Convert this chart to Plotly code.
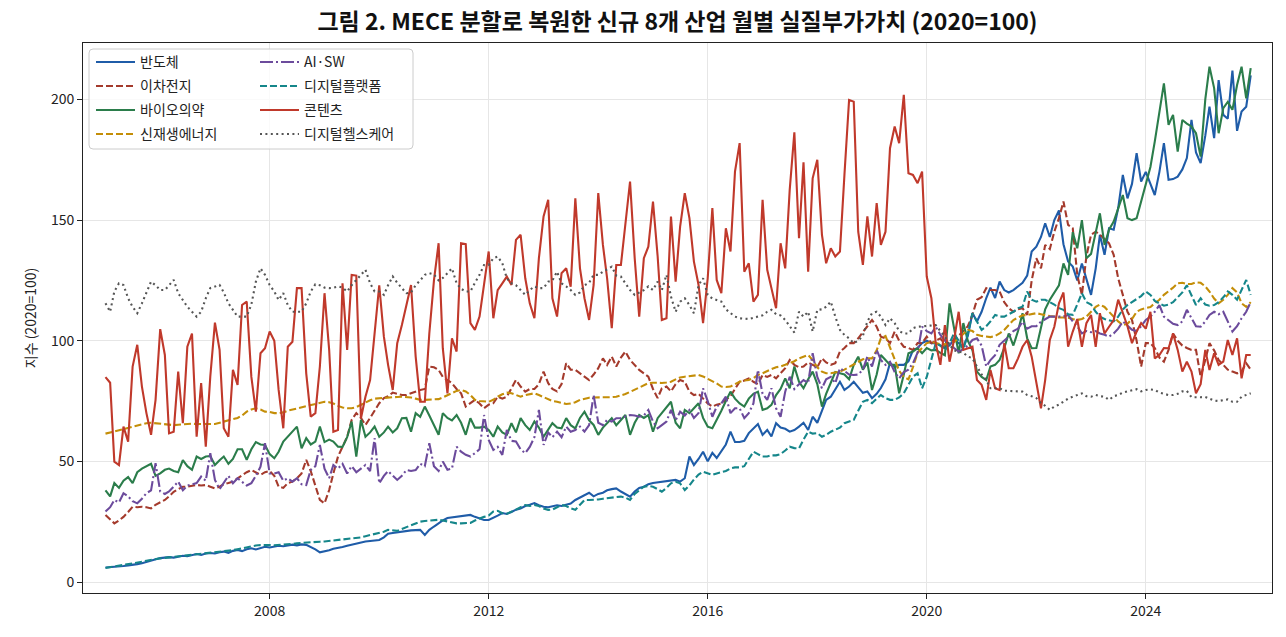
import pandas as pd
import plotly.graph_objects as go

dates = pd.date_range("2005-01-01", periods=252, freq="MS")

semiconductor = [
    6.0, 6.1, 6.3, 6.5, 6.6, 6.9, 7.0, 7.4, 7.8, 8.3, 9.0, 9.6,
    9.9, 10.1, 10.3, 10.1, 10.6, 10.9, 10.7, 11.2, 11.6, 11.2, 11.8, 12.0,
    11.8, 12.3, 12.6, 12.1, 12.9, 13.3, 12.8, 13.6, 14.0, 13.5, 14.2, 14.6,
    14.3, 14.6, 15.0, 14.8, 15.2, 15.5, 15.2, 15.6, 15.4, 14.6, 13.5, 12.3,
    12.6, 13.2, 13.8, 14.0, 14.5, 15.0, 15.5, 16.0, 16.4, 16.8, 17.0, 17.2,
    17.4, 18.5, 20.0, 20.3, 20.6, 21.0, 21.2, 21.4, 21.5, 21.6, 19.5, 21.6,
    23.0, 24.5, 25.5, 26.5, 26.8, 27.0, 27.3, 27.6, 27.8, 27.0, 26.2, 25.7,
    25.7, 26.5, 27.5, 28.6, 28.2, 29.0, 30.0, 30.5, 31.5, 32.0, 32.7, 31.8,
    31.2, 31.0, 31.5, 31.8, 31.5, 32.0, 32.5, 34.0, 35.0, 36.0, 37.0, 35.5,
    36.5, 37.0, 38.0, 38.5, 38.8, 37.5, 36.5, 35.4, 37.5, 39.0, 39.5, 40.5,
    41.0, 41.3, 41.6, 41.8, 42.0, 42.3, 41.6, 43.0, 52.0, 48.5, 51.0, 54.0,
    50.0, 53.5, 51.4, 54.0, 57.0, 62.3, 58.0, 58.0, 58.5, 61.7, 63.5, 65.5,
    61.0, 63.0, 60.3, 65.8, 64.0, 63.5, 62.3, 63.0, 64.4, 66.0, 63.0, 68.5,
    66.0, 71.3, 75.5, 76.8, 80.0, 83.0, 79.6, 81.0, 83.0, 80.5, 78.4, 79.0,
    76.2, 78.0, 80.4, 84.0, 90.8, 89.0, 90.0, 90.0, 91.5, 96.0, 97.0, 99.0,
    100.0, 99.0, 99.0, 98.0, 97.0, 98.0, 100.5, 99.0, 97.5, 102.0, 111.5, 108.0,
    112.0, 117.7, 122.0, 117.7, 124.5, 121.0, 120.0, 121.0, 122.5, 124.0, 127.0, 137.0,
    139.0, 143.0, 148.7, 143.0, 150.0, 154.0, 140.0, 132.8, 130.7, 125.0, 132.0, 126.0,
    119.0, 130.0, 143.9, 135.6, 146.6, 146.0, 155.0, 168.7, 159.0, 165.0, 177.7, 166.0,
    170.0, 165.0, 160.4, 170.0, 181.9, 166.7, 167.0, 168.0, 171.0, 175.7, 191.5, 178.0,
    173.6, 185.0, 197.0, 184.0, 208.0, 193.6, 192.0, 212.0, 187.0, 195.0, 197.0, 210.0,
]

battery = [
    27.8, 26.0, 24.3, 25.5, 27.0, 29.0, 31.2, 31.0, 31.2, 31.0, 30.5, 32.0,
    33.0, 34.0, 35.5, 37.4, 38.5, 39.5, 39.5, 40.0, 40.2, 40.0, 40.2, 39.5,
    38.8, 39.5, 40.5, 41.0, 41.6, 43.0, 44.4, 45.5, 46.4, 45.5, 44.4, 45.5,
    46.0, 44.0, 39.5, 39.0, 41.0, 41.6, 43.0, 45.0, 50.6, 46.0, 40.0, 34.0,
    32.6, 38.1, 45.0, 52.0, 56.0, 60.2, 67.2, 70.0, 68.0, 65.1, 68.0, 71.0,
    74.1, 76.2, 77.0, 78.5, 78.0, 77.5, 77.5, 78.2, 79.0, 79.6, 80.0, 89.3,
    89.0, 87.9, 85.0, 83.7, 82.4, 80.0, 78.2, 72.7, 74.0, 75.5, 74.0, 72.0,
    73.5, 74.1, 76.8, 76.0, 76.8, 80.3, 83.7, 81.0, 78.9, 80.0, 80.0, 82.0,
    87.2, 82.4, 80.0, 79.0, 82.0, 90.7, 88.0, 87.9, 86.5, 85.0, 83.7, 86.0,
    88.6, 92.7, 90.0, 93.4, 89.3, 93.0, 95.5, 92.0, 90.0, 87.9, 86.5, 85.1,
    80.0, 76.2, 80.3, 81.0, 79.0, 82.0, 83.7, 83.0, 78.9, 77.5, 78.0, 76.2,
    74.0, 72.7, 73.5, 74.0, 75.5, 77.0, 80.0, 83.0, 83.5, 84.4, 83.0, 82.0,
    85.8, 85.0, 85.8, 84.4, 86.5, 88.6, 92.0, 90.0, 89.0, 89.3, 91.0, 90.0,
    89.0, 92.7, 91.0, 90.0, 90.7, 95.5, 97.0, 99.0, 99.0, 101.0, 103.8, 106.0,
    108.6, 105.8, 101.7, 101.0, 99.0, 103.8, 100.0, 97.5, 97.0, 96.2, 99.0, 99.0,
    101.7, 99.0, 100.0, 101.0, 98.0, 99.0, 100.5, 102.0, 104.0, 106.0, 110.7, 117.0,
    118.0, 121.8, 121.0, 121.0, 120.4, 116.0, 113.5, 112.0, 113.0, 113.5, 110.7, 125.0,
    134.2, 130.0, 139.7, 138.0, 145.2, 150.8, 157.7, 148.0, 146.6, 127.3, 119.0, 135.0,
    143.9, 145.2, 144.0, 142.0, 140.4, 135.6, 125.9, 119.0, 112.0, 108.6, 100.0, 89.3,
    99.0, 99.0, 97.0, 93.0, 91.3, 96.2, 103.0, 100.0, 98.0, 97.0, 96.2, 96.2,
    85.1, 92.0, 99.0, 96.0, 92.0, 90.0, 88.0, 87.2, 86.5, 87.2, 90.7, 88.0,
]

biopharma = [
    38.0, 35.5, 41.0, 39.0, 42.0, 43.5, 41.0, 45.5, 47.0, 48.0, 49.0, 44.0,
    45.0, 46.5, 47.0, 46.0, 45.5, 50.5, 48.0, 46.5, 52.0, 51.0, 52.0, 52.2,
    48.5, 50.5, 52.0, 49.0, 51.0, 55.0, 55.0, 50.6, 55.0, 58.0, 57.0, 56.8,
    53.0, 51.3, 54.0, 58.2, 60.2, 62.0, 64.4, 55.4, 59.6, 57.0, 58.2, 64.4,
    58.0, 59.0, 58.2, 56.1, 56.0, 60.0, 66.5, 52.0, 67.2, 60.2, 62.0, 64.4,
    60.2, 62.0, 64.4, 62.0, 63.7, 67.9, 68.0, 62.3, 70.0, 68.5, 72.7, 69.0,
    65.0, 61.0, 70.0, 68.0, 67.0, 69.2, 66.0, 61.0, 67.9, 64.0, 64.0, 64.4,
    63.0, 60.2, 64.4, 62.0, 61.0, 65.8, 62.0, 67.9, 65.0, 63.0, 66.5, 64.0,
    60.2, 63.0, 65.8, 64.0, 63.7, 67.9, 65.0, 63.7, 68.0, 70.6, 67.0, 65.1,
    61.0, 64.0, 66.0, 67.9, 65.0, 67.0, 69.2, 61.0, 66.0, 69.2, 68.0, 69.2,
    62.3, 67.9, 70.0, 72.0, 74.7, 66.0, 63.7, 71.3, 70.0, 72.0, 74.1, 68.0,
    64.4, 63.7, 67.0, 71.0, 75.0, 78.9, 76.0, 74.0, 72.7, 76.0, 78.0, 78.9,
    71.3, 72.0, 73.4, 77.5, 80.0, 84.4, 80.3, 89.3, 83.0, 80.3, 84.0, 87.2,
    82.0, 72.7, 78.0, 83.0, 87.0, 86.5, 86.0, 84.0, 90.0, 93.4, 88.0, 91.0,
    79.6, 86.0, 94.1, 92.0, 90.0, 90.0, 78.2, 86.0, 94.8, 95.5, 96.9, 94.8,
    97.0, 96.0, 96.2, 95.0, 94.0, 115.5, 105.0, 94.8, 107.3, 100.0, 96.0, 87.2,
    85.0, 83.7, 89.3, 90.0, 92.0, 97.0, 103.0, 98.0, 104.0, 111.4, 101.0, 96.9,
    97.0, 105.0, 113.0, 117.0, 120.0, 123.0, 132.0, 127.3, 145.0, 138.3, 150.0, 134.2,
    136.0, 145.0, 152.8, 139.7, 146.0, 149.4, 155.0, 160.4, 150.8, 150.0, 150.8, 158.0,
    164.6, 172.0, 182.5, 195.0, 206.7, 189.5, 193.6, 178.4, 191.5, 190.0, 188.8, 186.0,
    176.3, 200.0, 213.6, 204.7, 186.0, 196.4, 199.0, 195.7, 206.0, 213.6, 200.5, 213.0,
]

renewable = [
    61.5, 62.0, 62.5, 63.0, 63.5, 64.0, 64.5, 65.0, 65.5, 65.8, 66.0, 65.8,
    65.5, 65.3, 65.1, 65.0, 65.2, 65.4, 65.5, 65.6, 65.5, 65.4, 65.5, 65.5,
    65.5, 66.0, 66.5, 67.0, 67.4, 68.0, 69.0, 70.6, 71.5, 72.0, 71.5, 70.6,
    70.5, 70.0, 70.0, 70.3, 71.0, 71.5, 72.0, 72.5, 73.0, 73.5, 74.0, 74.5,
    74.7, 74.5, 74.0, 73.0, 72.3, 72.0, 72.0, 72.5, 73.5, 74.5, 75.3, 76.0,
    76.2, 76.4, 76.5, 76.6, 76.7, 76.8, 76.8, 76.5, 76.0, 75.5, 75.5, 75.5,
    75.5, 75.8, 76.5, 77.5, 78.5, 79.2, 79.6, 79.0, 77.5, 75.5, 75.0, 74.7,
    74.7, 75.5, 76.8, 77.8, 78.5, 78.2, 77.5, 76.8, 77.5, 78.0, 78.2, 77.5,
    76.6, 75.8, 75.0, 74.7, 74.2, 73.8, 74.0, 74.5, 75.5, 76.0, 76.4, 76.5,
    76.5, 76.3, 76.4, 76.6, 76.8, 77.2, 77.9, 78.8, 79.8, 80.7, 81.5, 82.4,
    82.6, 82.5, 82.5, 82.7, 83.0, 84.0, 84.8, 85.1, 85.4, 85.6, 85.8, 85.2,
    84.2, 83.5, 82.3, 81.0, 80.8, 81.0, 82.0, 83.0, 83.5, 83.7, 84.5, 85.8,
    86.5, 87.5, 88.2, 89.0, 89.3, 90.0, 90.7, 91.5, 92.7, 93.5, 94.1, 92.0,
    89.0, 87.2, 86.5, 86.5, 86.8, 87.2, 88.0, 89.0, 90.0, 91.0, 92.3, 92.7,
    92.7, 96.0, 101.0, 102.0, 97.0, 92.0, 87.5, 85.0, 84.0, 89.0, 95.0, 97.0,
    99.0, 99.5, 99.0, 98.5, 98.5, 99.0, 99.5, 101.0, 103.0, 104.5, 104.0, 102.5,
    102.0, 101.7, 101.5, 102.0, 103.0, 104.5, 106.5, 108.6, 109.6, 110.5, 110.7, 111.0,
    111.4, 111.0, 110.5, 110.2, 110.0, 109.6, 109.6, 109.5, 109.0, 108.6, 109.0, 110.0,
    112.0, 114.0, 115.0, 114.0, 112.0, 110.0, 108.0, 106.5, 107.0, 109.0, 112.0, 113.0,
    113.5, 114.0, 115.5, 117.0, 119.0, 120.4, 122.0, 123.8, 124.0, 123.5, 123.5, 124.2,
    124.0, 122.5, 120.4, 117.5, 115.5, 117.0, 119.0, 121.8, 120.0, 115.5, 114.0, 116.0,
]

ai_sw = [
    29.2, 31.0, 34.0, 33.0, 36.8, 35.5, 33.5, 32.6, 34.5, 36.8, 38.0, 49.2,
    37.5, 36.5, 37.5, 39.5, 41.6, 38.0, 40.0, 40.5, 41.0, 43.7, 42.0, 53.4,
    42.3, 38.5, 41.0, 44.0, 40.9, 43.0, 41.5, 40.0, 41.0, 44.0, 47.8, 57.5,
    45.0, 45.0, 45.5, 42.0, 43.0, 41.6, 43.0, 40.5, 40.2, 46.4, 48.0, 56.8,
    47.0, 43.0, 48.5, 47.0, 49.0, 45.0, 48.0, 45.5, 47.0, 48.5, 46.0, 59.6,
    40.9, 44.0, 46.0, 44.0, 42.3, 44.0, 46.4, 46.0, 46.4, 49.0, 48.0, 57.5,
    48.0, 46.0, 49.9, 46.5, 47.0, 56.1, 54.0, 52.7, 52.0, 53.4, 55.0, 69.2,
    58.9, 54.7, 56.0, 52.7, 63.0, 58.5, 58.2, 55.0, 53.4, 56.0, 60.0, 71.3,
    56.8, 62.0, 60.0, 62.3, 60.0, 64.4, 62.3, 63.0, 64.4, 62.3, 65.0, 77.5,
    66.0, 65.0, 67.2, 66.5, 67.9, 68.0, 68.5, 69.2, 69.0, 68.5, 69.0, 71.3,
    66.5, 63.7, 65.0, 66.5, 71.3, 67.0, 70.6, 69.0, 71.3, 68.0, 70.0, 80.3,
    75.0, 68.5, 72.7, 74.0, 76.8, 70.0, 72.0, 72.0, 67.9, 70.0, 74.0, 87.9,
    78.0, 75.5, 80.3, 72.0, 68.5, 78.9, 85.1, 80.0, 82.0, 83.7, 82.5, 94.8,
    85.0, 80.3, 84.0, 85.0, 82.4, 88.6, 87.5, 86.0, 85.8, 86.0, 88.0, 93.4,
    89.3, 96.2, 92.0, 90.0, 91.3, 87.0, 84.4, 87.0, 88.0, 90.7, 95.0, 105.8,
    104.0, 103.0, 105.8, 102.4, 100.0, 99.0, 97.0, 95.5, 96.5, 98.0, 100.3, 101.0,
    98.0, 89.3, 92.0, 94.0, 98.3, 100.0, 101.7, 104.0, 105.0, 107.9, 105.0, 106.0,
    106.0, 107.9, 109.0, 110.0, 110.0, 110.0, 110.0, 110.7, 108.0, 106.0, 103.0, 104.0,
    103.5, 104.0, 103.0, 102.5, 101.7, 103.0, 105.0, 108.0, 106.0, 104.5, 104.0, 106.0,
    108.6, 110.0, 112.0, 114.8, 110.0, 108.6, 107.0, 106.5, 108.0, 112.8, 109.0, 106.0,
    105.8, 108.0, 110.7, 112.0, 111.0, 112.0, 108.0, 103.8, 106.0, 109.3, 112.0, 116.0,
]

platform = [
    5.8, 6.1, 6.4, 6.7, 7.0, 7.3, 7.6, 8.0, 8.4, 8.8, 9.2, 9.6,
    9.8, 10.0, 10.2, 10.4, 10.6, 10.8, 11.0, 11.2, 11.4, 11.6, 11.8, 12.0,
    12.2, 12.4, 12.6, 12.9, 13.2, 13.6, 14.0, 14.4, 14.8, 15.1, 15.3, 15.4,
    15.3, 15.2, 15.3, 15.5, 15.6, 15.8, 16.0, 16.2, 16.4, 16.5, 16.6, 16.7,
    16.8, 17.0, 17.2, 17.4, 17.6, 17.8, 18.0, 18.1, 18.5, 19.0, 19.5, 20.0,
    20.2, 20.8, 21.6, 21.5, 21.2, 22.0, 22.8, 23.6, 24.4, 25.0, 25.3, 25.5,
    25.7, 25.8, 25.5, 25.0, 24.5, 24.3, 24.3, 24.5, 24.5, 25.5, 26.4, 27.0,
    27.5, 29.2, 29.5, 28.5, 28.3, 29.0, 30.0, 31.0, 31.9, 31.5, 31.9, 31.5,
    30.5, 29.9, 30.0, 31.0, 31.9, 31.5, 30.5, 29.9, 32.0, 34.0, 34.0, 34.0,
    34.2, 34.5, 34.8, 35.0, 35.2, 35.4, 35.0, 34.0, 36.5, 38.0, 39.5, 39.8,
    39.5, 38.5, 37.4, 39.0, 40.9, 41.5, 40.9, 38.1, 40.0, 42.5, 44.5, 45.7,
    45.0, 44.4, 45.0, 45.5, 46.0, 47.1, 47.5, 47.5, 48.0, 51.0, 54.0, 53.0,
    52.0, 52.0, 52.5, 52.5, 53.0, 54.5, 56.1, 55.5, 55.4, 59.0, 62.3, 61.5,
    61.7, 60.2, 61.0, 62.3, 63.0, 64.0, 65.8, 66.5, 67.2, 71.0, 74.7, 75.5,
    74.1, 76.0, 77.5, 76.2, 75.5, 75.5, 76.5, 78.2, 82.0, 85.1, 86.5, 80.3,
    85.0, 92.0, 99.0, 98.0, 96.0, 99.0, 103.0, 100.0, 96.2, 103.0, 111.4, 108.0,
    104.5, 106.0, 108.0, 110.7, 110.0, 110.0, 111.0, 112.0, 113.5, 114.1, 120.4, 117.0,
    116.2, 117.0, 117.0, 116.0, 115.0, 113.5, 112.8, 111.0, 110.7, 115.0, 119.7, 116.0,
    115.0, 112.0, 110.0, 109.0, 108.5, 108.0, 110.0, 113.0, 114.8, 116.0, 117.6, 118.5,
    120.4, 119.0, 116.5, 115.5, 114.5, 115.0, 116.0, 118.0, 120.0, 123.0, 119.0, 114.8,
    117.6, 115.0, 114.5, 114.8, 116.0, 118.0, 120.4, 119.0, 117.0, 121.0, 125.2, 119.0,
]

content = [
    84.9, 82.6, 49.9, 48.5, 64.4, 58.2, 89.3, 98.3, 81.0, 70.0, 61.0, 75.5,
    104.8, 94.1, 61.6, 62.3, 87.2, 65.8, 97.5, 103.0, 60.2, 82.4, 56.1, 85.1,
    107.5, 96.2, 63.7, 60.2, 87.9, 81.7, 114.8, 116.2, 85.0, 70.6, 94.8, 96.9,
    103.8, 100.0, 79.6, 63.7, 97.5, 99.6, 121.8, 121.8, 86.5, 68.5, 70.0, 89.3,
    119.7, 96.2, 62.3, 63.0, 123.8, 96.2, 127.3, 127.0, 67.9, 76.8, 83.7, 104.5,
    123.0, 101.7, 90.0, 79.6, 99.0, 106.5, 115.0, 123.1, 93.4, 74.7, 74.7, 103.0,
    125.0, 140.4, 96.9, 78.2, 101.0, 95.5, 140.4, 140.0, 107.3, 104.5, 110.0, 123.0,
    137.0, 109.3, 121.0, 123.8, 126.6, 123.1, 141.8, 143.9, 125.9, 115.5, 109.3, 134.2,
    151.5, 158.4, 117.6, 110.0, 128.0, 130.0, 122.4, 159.0, 130.0, 117.6, 108.6, 123.1,
    161.2, 139.7, 125.9, 105.2, 131.4, 131.4, 148.0, 166.0, 134.2, 110.0, 134.2, 139.0,
    157.7, 135.0, 108.6, 109.3, 151.5, 124.5, 147.3, 161.2, 150.8, 132.8, 123.1, 107.3,
    125.9, 155.0, 125.2, 119.7, 146.6, 137.0, 170.1, 181.9, 128.6, 132.1, 116.2, 119.0,
    158.4, 129.4, 121.8, 113.5, 140.4, 130.0, 162.5, 186.4, 142.5, 174.0, 128.6, 167.3,
    175.0, 143.9, 132.1, 138.3, 134.9, 137.0, 168.7, 199.8, 199.1, 145.2, 131.4, 151.5,
    134.9, 157.0, 139.7, 145.2, 179.8, 188.8, 181.9, 201.9, 169.4, 168.7, 165.3, 170.1,
    126.6, 117.6, 99.0, 90.0, 106.5, 91.3, 100.3, 112.0, 96.2, 97.0, 97.5, 83.7,
    81.7, 75.5, 87.9, 80.3, 79.6, 99.0, 88.6, 88.6, 92.7, 97.5, 100.3, 93.4,
    82.4, 72.0, 83.7, 100.3, 105.8, 115.5, 120.0, 97.5, 103.8, 109.0, 97.5, 107.3,
    110.7, 97.5, 111.4, 103.0, 105.8, 108.6, 117.0, 111.4, 106.0, 99.0, 103.8, 107.3,
    105.0, 112.0, 92.7, 94.1, 97.0, 96.9, 103.0, 96.2, 87.2, 91.3, 87.2, 78.2,
    82.0, 96.2, 87.9, 94.8, 90.0, 91.3, 100.3, 94.1, 101.0, 84.4, 94.1, 94.1,
]

healthcare = [
    115.5, 112.0, 120.4, 123.8, 123.1, 117.6, 114.0, 111.4, 115.5, 120.0, 124.5, 123.0,
    121.0, 121.0, 123.1, 125.2, 119.7, 116.9, 114.1, 112.0, 110.0, 112.0, 117.6, 121.8,
    122.5, 123.1, 120.0, 115.5, 112.8, 110.0, 110.0, 110.0, 115.0, 124.5, 130.0, 127.3,
    123.1, 120.4, 116.9, 119.7, 114.8, 112.0, 112.0, 112.0, 115.5, 120.4, 123.4, 123.0,
    122.0, 121.8, 122.0, 122.5, 122.0, 120.4, 123.0, 125.2, 127.0, 129.4, 123.8, 120.4,
    120.4, 119.0, 123.0, 126.6, 124.0, 122.0, 119.7, 120.0, 123.0, 125.0, 127.3, 128.0,
    127.5, 125.0, 126.0, 128.0, 130.0, 123.8, 121.5, 120.4, 120.4, 124.0, 127.3, 131.4,
    131.4, 134.2, 134.9, 132.1, 125.9, 123.8, 123.0, 121.0, 119.0, 121.0, 122.5, 121.8,
    121.8, 124.5, 125.0, 128.6, 123.8, 122.5, 121.0, 119.0, 120.0, 123.0, 124.0, 127.3,
    127.3, 128.6, 129.5, 130.7, 127.0, 126.6, 123.8, 121.0, 119.0, 120.0, 121.0, 122.5,
    121.0, 124.5, 121.0, 127.3, 118.3, 112.0, 116.2, 117.6, 114.8, 111.4, 123.1, 125.9,
    119.0, 117.5, 117.0, 116.2, 113.0, 111.4, 110.0, 109.3, 109.0, 109.0, 109.5, 110.0,
    110.5, 112.0, 112.8, 111.0, 110.5, 108.6, 105.8, 103.4, 112.0, 110.0, 112.0, 103.8,
    112.8, 113.0, 114.1, 116.2, 110.0, 104.5, 102.4, 101.0, 99.0, 100.0, 102.0, 108.0,
    111.4, 112.0, 110.0, 106.5, 109.3, 107.3, 104.0, 103.0, 103.0, 105.2, 105.8, 106.0,
    106.0, 106.5, 106.5, 104.0, 101.7, 98.3, 96.0, 95.5, 95.0, 93.5, 92.7, 89.3,
    86.0, 83.7, 80.3, 80.3, 80.3, 79.3, 79.3, 79.3, 79.0, 78.9, 77.5, 77.0,
    76.2, 74.1, 73.0, 71.3, 72.7, 73.5, 74.7, 76.0, 76.8, 77.5, 78.2, 77.0,
    76.8, 77.5, 77.0, 76.8, 75.5, 77.0, 77.5, 78.5, 78.9, 79.5, 79.9, 79.0,
    79.6, 79.8, 79.6, 78.5, 77.9, 77.5, 77.5, 78.0, 79.0, 79.2, 76.6, 76.5,
    76.6, 76.7, 76.0, 75.2, 75.0, 75.2, 75.7, 74.7, 74.7, 76.8, 77.5, 78.2,
]

series_names = ["반도체", "이차전지", "바이오의약", "신재생에너지",
                "AI·SW", "디지털플랫폼", "콘텐츠", "디지털헬스케어"]
series_values = [semiconductor, battery, biopharma, renewable,
                 ai_sw, platform, content, healthcare]
colors = ["#1f5ca8", "#a43a2c", "#2b7d4b", "#c48e08",
          "#6c4b9c", "#15868a", "#c0392b", "#555555"]
dashes = ["solid", "7px,3px", "solid", "7px,3px",
          "13px,3px,2px,3px", "7px,3px", "solid", "2px,3.4px"]

FONT = "Noto Sans CJK KR"

fig = go.Figure()
for k, (name, vals) in enumerate(zip(series_names, series_values)):
    assert len(vals) == 252, (name, len(vals))
    fig.add_trace(go.Scatter(
        x=dates, y=vals, mode="lines", name=name,
        line=dict(color=colors[k], width=2.1, dash=dashes[k]),
        legend="legend" if k < 4 else "legend2",
        legendgroup=name,
    ))

W, H = 1286, 637
L, R, T, B = 83, 14, 43, 44
pw, ph = W - L - R, H - T - B

def px_x(px):
    return (px - L) / pw

def px_y(py):
    return 1 - (py - T) / ph

legend_common = dict(
    bgcolor="rgba(0,0,0,0)", borderwidth=0,
    font=dict(family=FONT, size=14, color="#222222"),
    itemwidth=39, traceorder="grouped", tracegroupgap=2.8,
    xanchor="left", yanchor="top", y=px_y(46.4),
)

# rounded legend frame (in paper coordinates)
x0, x1 = px_x(89), px_x(413)
y0, y1 = px_y(149), px_y(49)
rx, ry = 4 / pw, 4 / ph
frame_path = (
    f"M{x0+rx},{y1} L{x1-rx},{y1} Q{x1},{y1} {x1},{y1-ry} "
    f"L{x1},{y0+ry} Q{x1},{y0} {x1-rx},{y0} "
    f"L{x0+rx},{y0} Q{x0},{y0} {x0},{y0+ry} "
    f"L{x0},{y1-ry} Q{x0},{y1} {x0+rx},{y1} Z"
)

fig.update_layout(
    width=W, height=H,
    margin=dict(l=L, r=R, t=T, b=B),
    paper_bgcolor="white", plot_bgcolor="white",
    font=dict(family=FONT, size=14, color="#222222"),
    title=dict(
        text="<b>그림 2. MECE 분할로 복원한 신규 8개 산업 월별 실질부가가치 (2020=100)</b>",
        x=px_x(677.5), xref="paper", xanchor="center",
        y=1 - 22 / H, yref="container", yanchor="middle",
        font=dict(family=FONT, size=23, color="#111111"),
    ),
    legend=dict(x=px_x(91), **legend_common),
    legend2=dict(x=px_x(255), **legend_common),
    shapes=[dict(
        type="path", path=frame_path, xref="paper", yref="paper",
        line=dict(color="#cccccc", width=1),
        fillcolor="rgba(255,255,255,0.8)", layer="above",
    )],
    showlegend=True,
)

fig.update_xaxes(
    type="date",
    range=["2004-08-04", "2026-04-22"],
    tick0="2008-01-01", dtick="M48", tickformat="%Y",
    showgrid=True, gridcolor="#e6e6e6", gridwidth=1,
    showline=True, linecolor="#222222", linewidth=1, mirror=True,
    ticks="outside", ticklen=5, tickcolor="#222222",
    tickfont=dict(family=FONT, size=14, color="#222222"),
    zeroline=False,
)
fig.update_yaxes(
    range=[-4.56, 223.4],
    tickvals=[0, 50, 100, 150, 200],
    showgrid=True, gridcolor="#e6e6e6", gridwidth=1,
    showline=True, linecolor="#222222", linewidth=1, mirror=True,
    ticks="outside", ticklen=5, tickcolor="#222222",
    tickfont=dict(family=FONT, size=14, color="#222222"),
    zeroline=False,
    title=dict(text="지수 (2020=100)", standoff=10,
               font=dict(family=FONT, size=14, color="#222222")),
)

fig.write_html("out.html")
